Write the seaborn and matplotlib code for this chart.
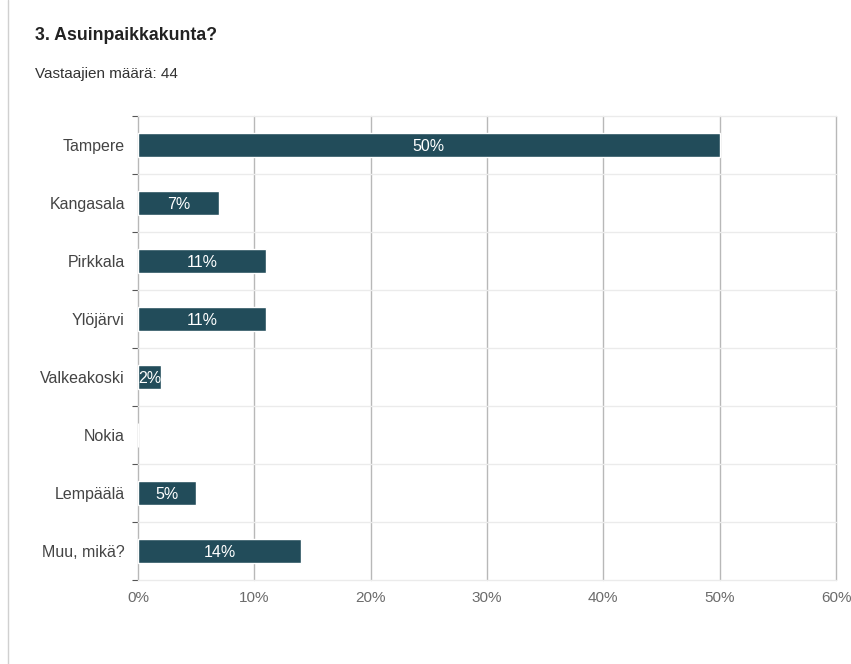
import matplotlib
matplotlib.use("Agg")
import matplotlib.pyplot as plt
import seaborn as sns
import pandas as pd
import numpy as np
from matplotlib.lines import Line2D

categories = ["Tampere", "Kangasala", "Pirkkala", "Ylöjärvi", "Valkeakoski", "Nokia", "Lempäälä", "Muu, mikä?"]
values = [50, 7, 11, 11, 2, 0, 5, 14]
xticks = [0, 10, 20, 30, 40, 50, 60]
xticklabels = ["0%", "10%", "20%", "30%", "40%", "50%", "60%"]
title = "3. Asuinpaikkakunta?"
subtitle = "Vastaajien määrä: 44"

sns.set_theme(style="white")
plt.rcParams["font.family"] = ["Liberation Sans", "DejaVu Sans"]

df = pd.DataFrame({"cat": categories, "val": values})

fig = plt.figure(figsize=(8.51, 6.64), dpi=100)
ax = fig.add_axes([138/851, 1-580/664, (836-138)/851, (580-116)/664])

sns.barplot(data=df, x="val", y="cat", orient="h", color="#224c5a", width=0.41,
            saturation=1, ax=ax, zorder=3)

ax.set_xlim(0, 60)
ax.set_ylim(len(categories)-0.5, -0.5)
ax.set_xticks(xticks)
ax.set_xticklabels(xticklabels, color="#6b6b6b", fontsize=11)
ax.set_xlabel("")
ax.set_ylabel("")
ax.tick_params(axis="x", length=0, pad=8)
ax.tick_params(axis="y", which="major", length=0, pad=9.5, labelsize=11.5, labelcolor="#444444")
ax.set_yticks(np.arange(-0.5, len(categories)), minor=True)
ax.tick_params(axis="y", which="minor", left=True, length=4.5, color="#555555", width=0.8)

for s in ["top", "right", "left", "bottom"]:
    ax.spines[s].set_visible(False)

for x in xticks:
    ax.axvline(x, color="#b8b8b8", lw=1, zorder=1, clip_on=False)
for y in np.arange(-0.5, len(categories)):
    ax.axhline(y, color="#ebebeb", lw=1, zorder=1, clip_on=False)

for patch, v in zip(ax.patches, values):
    if v <= 0:
        continue
    cy = patch.get_y() + patch.get_height()/2
    t = ax.text(v/2, cy, f"{v}%", ha="center", va="center_baseline", color="white",
                fontsize=11.5, zorder=4)
    t.set_clip_path(patch)

fig.text(35/851, 1-36/664, title, fontsize=12.8, fontweight="bold", color="#222222",
         ha="left", va="center")
fig.text(35/851, 1-74/664, subtitle, fontsize=11, color="#333333", ha="left", va="center")

fig.add_artist(Line2D([8/851, 8/851], [0, 1], transform=fig.transFigure, color="#d0d0d0", lw=1))

fig.savefig("out.png", dpi=100)
